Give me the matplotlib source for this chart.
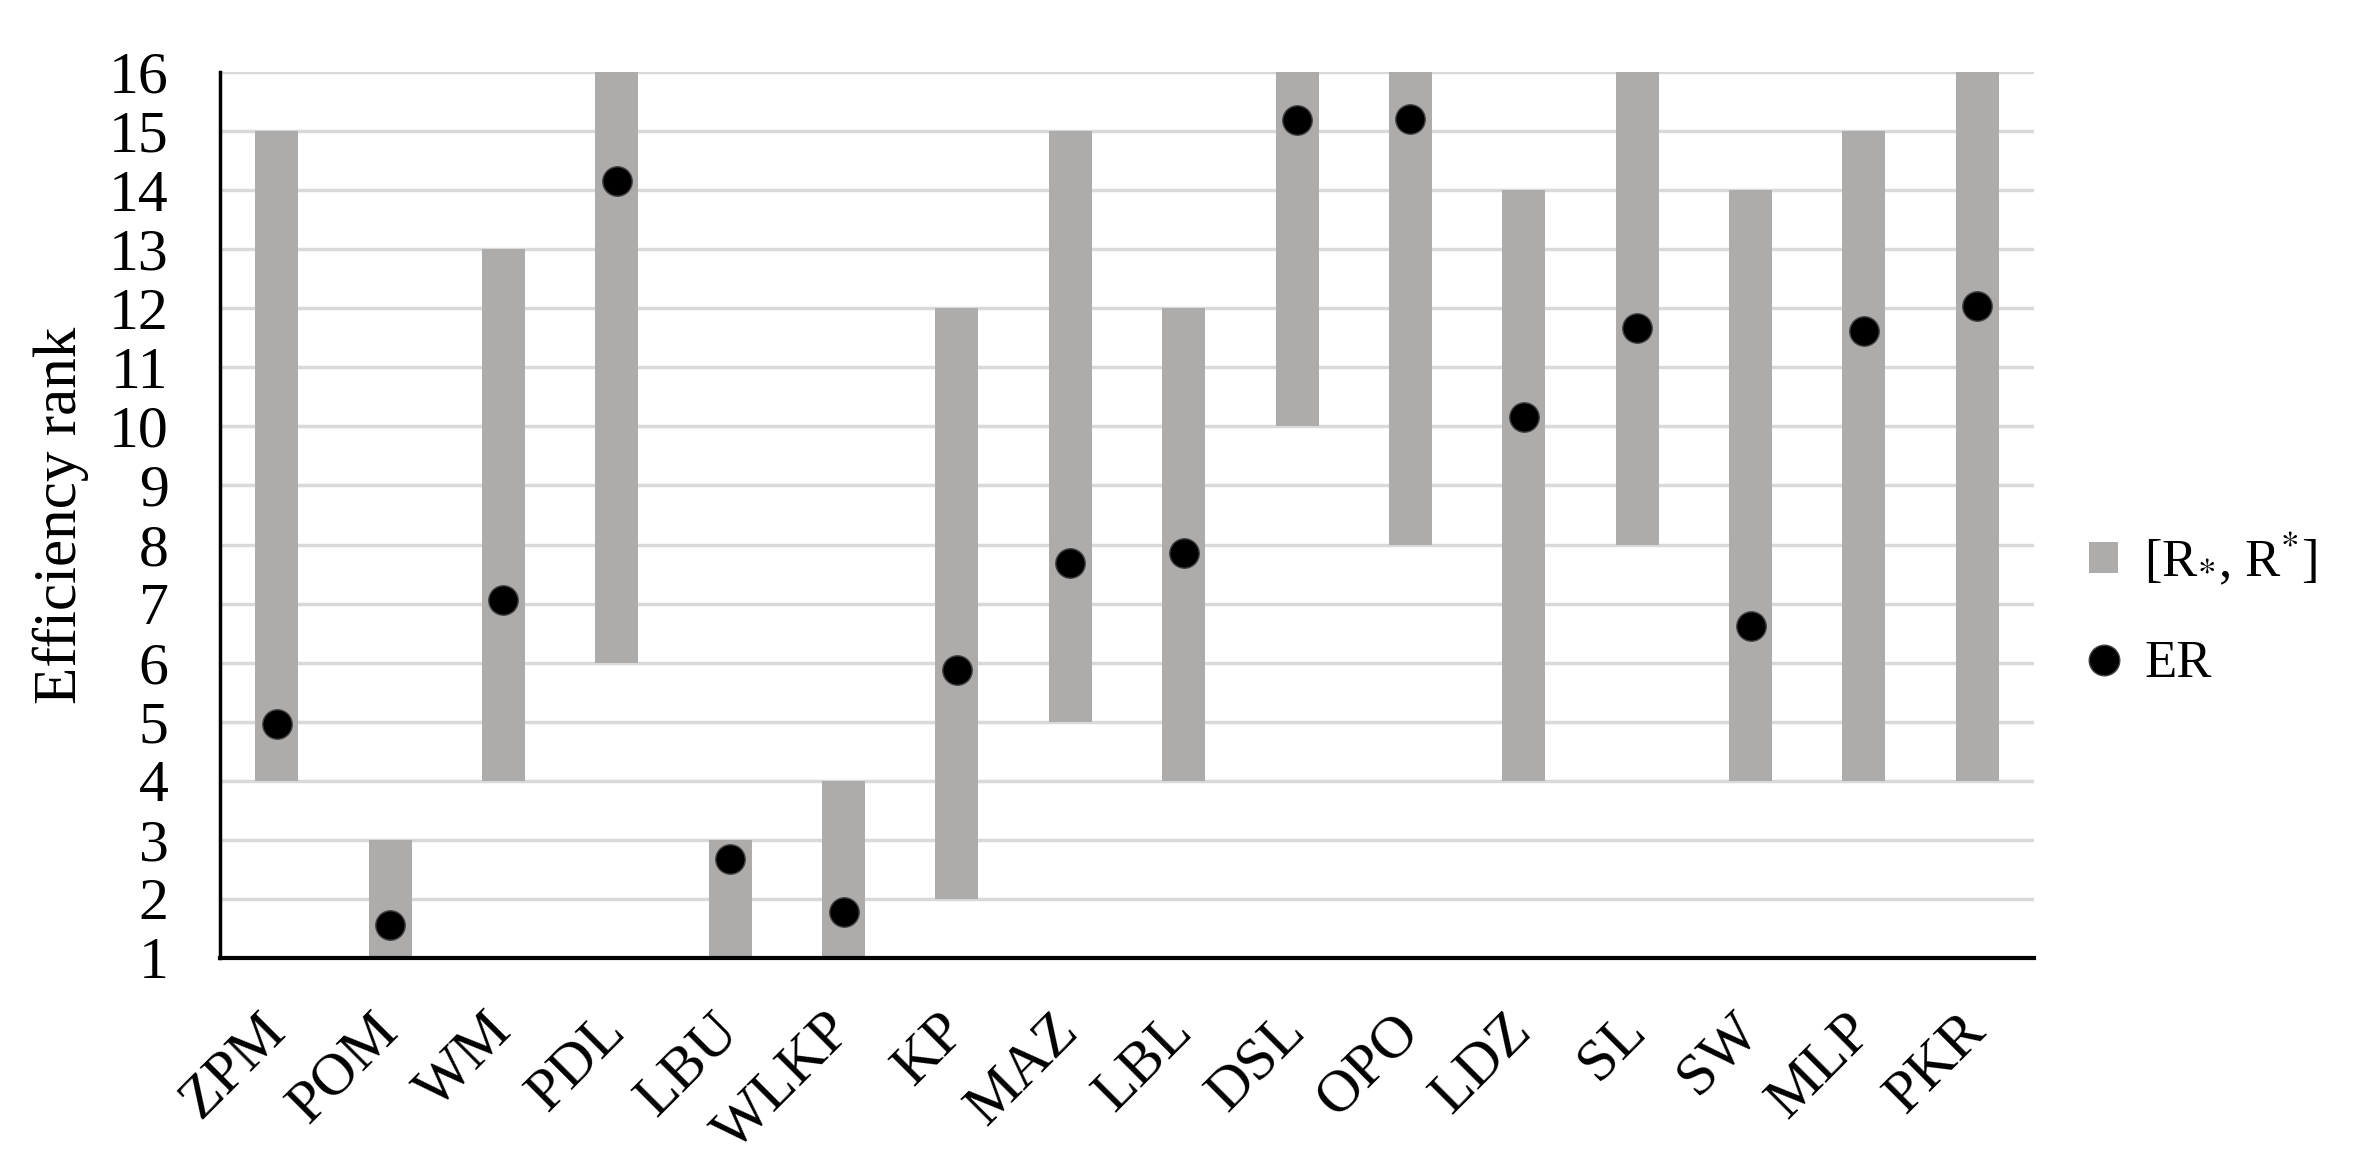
import matplotlib
matplotlib.use("Agg")
import matplotlib.pyplot as plt
from matplotlib.lines import Line2D
from matplotlib.patches import Patch
from matplotlib.transforms import ScaledTranslation

categories = ["ZPM", "POM", "WM", "PDL", "LBU", "WLKP", "KP", "MAZ", "LBL",
              "DSL", "OPO", "LDZ", "SL", "SW", "MLP", "PKR"]
r_low = [4, 1, 4, 6, 1, 1, 2, 5, 4, 10, 8, 4, 8, 4, 4, 4]
r_high = [15, 3, 13, 16, 3, 4, 12, 15, 12, 16, 16, 14, 16, 14, 15, 16]
er = [4.97, 1.56, 7.06, 14.16, 2.68, 1.78, 5.88, 7.69, 7.86, 15.18, 15.2,
      10.16, 11.66, 6.62, 11.62, 12.03]
yticks = list(range(1, 17))

plt.rcParams['font.family'] = ['Liberation Serif', 'DejaVu Serif']
plt.rcParams['mathtext.fontset'] = 'stix'

FS = 43
fig = plt.figure(figsize=(23.69, 11.71), dpi=100)
ax = fig.add_axes([220 / 2369, 1 - 958 / 1171, (2034 - 220) / 2369, (958 - 72) / 1171])

x = list(range(len(categories)))
heights = [h - l for l, h in zip(r_low, r_high)]
bar_color = '#AEABAB'
ax.bar(x, heights, bottom=r_low, width=0.38, color=bar_color, zorder=2)
ax.scatter(x, er, s=450, color='black', edgecolors='#444444', linewidths=1, zorder=3)

ax.set_xlim(-0.5, len(categories) - 0.5)
ax.set_ylim(1, 16)
ax.set_yticks(yticks)
ax.set_yticklabels([str(v) for v in yticks], fontsize=FS)
ax.set_xticks(x)
ax.set_xticklabels(categories, fontsize=FS, rotation=45, ha='right',
                   rotation_mode='anchor')
ax.tick_params(axis='y', length=0, pad=37)
ax.tick_params(axis='x', length=0, pad=33)
offset = ScaledTranslation(-0.19, 0, fig.dpi_scale_trans)
for lbl in ax.get_xticklabels():
    lbl.set_transform(lbl.get_transform() + offset)
ax.yaxis.grid(True, color='#D9D9D9', linewidth=2.5, zorder=0)
ax.set_axisbelow(True)
for s in ['top', 'right']:
    ax.spines[s].set_visible(False)
ax.spines['left'].set_linewidth(2.5)
ax.spines['bottom'].set_linewidth(3)
ax.set_ylabel("Efficiency rank", fontsize=44, labelpad=14)

handles = [Patch(facecolor=bar_color, edgecolor='none'),
           Line2D([], [], marker='o', linestyle='none', markersize=22,
                  markerfacecolor='black', markeredgecolor='#444444')]
labels = [r"[R$_{*}$, R$^{*}$]", "ER"]
fig.legend(handles, labels, loc='center left', bbox_to_anchor=(2089 / 2369, 0.48),
           frameon=False, fontsize=38, borderpad=0, borderaxespad=0,
           handlelength=0.55, handleheight=0.55,
           handletextpad=0.5, labelspacing=1.0)

fig.savefig("out.png", dpi=100)
